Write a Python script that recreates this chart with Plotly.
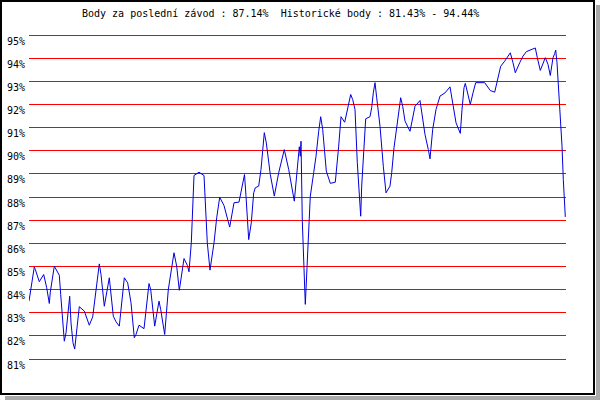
import plotly.graph_objects as go

# Position along the season and score in %
position = [0.0, 5.3, 6.3, 10.3, 14.7, 17.7, 20.3, 21.3, 25.3, 30.3, 31.7, 35.3, 37.0, 39.7, 40.7,
            42.0, 44.0, 45.7, 47.7, 50.3, 55.3, 60.3, 63.7, 67.0, 70.3, 72.0, 75.3, 80.3, 84.3,
            87.0, 90.3, 95.3, 98.7, 102.0, 105.3, 107.0, 110.0, 115.0, 120.0, 121.7, 125.7, 130.0,
            131.7, 135.7, 139.3, 145.0, 147.7, 150.3, 155.0, 158.3, 160.0, 162.3, 165.0, 170.0,
            175.0, 178.3, 181.0, 185.0, 187.7, 190.7, 195.0, 200.7, 205.0, 210.0, 215.5, 217.0,
            219.7, 222.3, 224.7, 226.3, 229.7, 232.0, 233.7, 235.3, 237.3, 241.3, 245.3, 249.7,
            255.3, 259.7, 265.3, 268.0, 270.3, 271.3, 272.0, 273.3, 275.3, 276.3, 278.0, 281.3,
            284.7, 287.0, 289.7, 291.7, 293.7, 297.3, 301.3, 306.3, 309.7, 312.0, 315.7, 319.7,
            321.7, 323.7, 326.0, 328.3, 331.0, 331.7, 332.7, 335.0, 336.7, 341.0, 342.7, 344.3,
            346.0, 347.7, 351.0, 354.3, 356.0, 357.0, 361.0, 362.7, 365.0, 367.7, 371.7, 373.7,
            376.0, 381.0, 383.7, 386.0, 391.0, 393.7, 396.0, 399.3, 401.0, 403.7, 407.0, 411.0,
            416.0, 421.0, 422.7, 427.0, 429.0, 431.3, 433.0, 435.0, 436.3, 439.0, 441.3, 444.0,
            446.7, 455.7, 459.0, 461.3, 465.7, 469.0, 471.7, 475.7, 479.0, 481.3, 484.0, 486.3,
            490.7, 494.0, 497.3, 502.3, 506.3, 508.3, 511.3, 516.3, 519.0, 521.3, 524.0, 525.7,
            526.7, 528.0, 529.7, 531.7, 533.0, 534.3, 535.7, 536.3]
score = [83.50, 84.98, 84.87, 84.34, 84.65, 84.08, 83.40, 83.89, 85.01, 84.62, 83.79, 81.77, 82.13,
         83.50, 83.71, 82.56, 81.70, 81.43, 82.35, 83.26, 83.07, 82.46, 82.82, 84.08, 85.11, 84.65,
         83.28, 84.51, 82.85, 82.61, 82.42, 84.51, 84.29, 83.43, 81.92, 82.06, 82.46, 82.31, 84.26,
         84.00, 82.42, 83.50, 83.14, 82.06, 84.00, 85.59, 85.01, 83.97, 85.34, 85.05, 84.77, 86.02,
         88.93, 89.07, 88.93, 86.02, 84.84, 86.02, 87.10, 87.99, 87.63, 86.70, 87.75, 87.78, 88.97,
         88.04, 86.16, 86.89, 88.18, 88.40, 88.47, 89.19, 90.08, 90.78, 90.34, 88.97, 88.04, 89.05,
         90.05, 89.19, 87.82, 89.05, 90.17, 89.76, 90.41, 86.96, 84.08, 83.36, 84.94, 88.04, 89.05,
         89.76, 90.84, 91.47, 90.92, 89.12, 88.59, 88.64, 90.20, 91.47, 91.23, 92.00, 92.43, 92.21,
         91.78, 89.48, 87.60, 87.17, 88.47, 90.13, 91.38, 91.47, 91.86, 92.50, 92.94, 92.29, 91.06,
         89.33, 88.40, 88.18, 88.47, 89.05, 90.13, 91.06, 92.29, 91.92, 91.28, 90.84, 91.49, 91.92,
         92.17, 91.35, 90.70, 90.05, 89.65, 90.92, 91.78, 92.36, 92.50, 92.76, 92.36, 91.21, 90.99,
         90.75, 91.78, 92.72, 92.91, 92.36, 92.00, 92.50, 92.94, 92.94, 92.72, 92.60, 92.53, 93.22,
         93.65, 93.87, 94.12, 94.23, 93.80, 93.37, 93.80, 94.09, 94.28, 94.35, 94.44, 94.02, 93.47,
         94.02, 93.73, 93.25, 94.02, 94.20, 94.35, 93.80, 92.65, 91.35, 90.20, 88.76, 87.60, 87.14]

tick_values = list(range(81, 96))
tick_labels = [f"{v}%" for v in tick_values]
title_text = "Body za poslední závod : 87.14%  Historické body : 81.43% - 94.44%"

W, H = 600, 400
L, R, T, B = 29, 34, 25, 31
PW, PH = W - L - R, H - T - B
# 95% sits at y=35 px and 81% at y=359 px -> 23.14 px per percent
PAD = 10 / (324 / 14)


def px(x):
    return (x - L) / PW


def py(y):
    return (H - B - y) / PH


fig = go.Figure()
fig.add_trace(go.Scatter(x=position, y=score, mode="lines",
                         line=dict(color="#0000dd", width=1),
                         hoverinfo="skip", showlegend=False))

font = dict(family="DejaVu Sans Mono, Liberation Mono, monospace", size=10, color="black")

fig.update_layout(
    width=W, height=H,
    margin=dict(l=L, r=R, t=T, b=B, autoexpand=False),
    paper_bgcolor="white", plot_bgcolor="white",
    showlegend=False,
    xaxis=dict(range=[0, 537], visible=False, showgrid=False, zeroline=False, automargin=False),
    yaxis=dict(range=[81 - PAD, 95 + PAD], tickvals=tick_values, ticktext=tick_labels,
               showgrid=True, gridcolor="#ff0000", gridwidth=1, zeroline=False,
               showline=False, ticks="", tickfont=font, automargin=False,
               ticklabelshift=6, ticklabelstandoff=3),
    annotations=[dict(text=title_text, x=px(280), y=py(13.5), xref="paper", yref="paper",
                      xanchor="center", yanchor="middle", showarrow=False, font=font)],
    shapes=[
        dict(type="rect", xref="paper", yref="paper", x0=px(596), x1=px(600), y0=py(5), y1=py(400),
             fillcolor="#a9a9a9", line=dict(width=0), layer="above"),
        dict(type="rect", xref="paper", yref="paper", x0=px(5), x1=px(600), y0=py(396), y1=py(400),
             fillcolor="#a9a9a9", line=dict(width=0), layer="above"),
        dict(type="rect", xref="paper", yref="paper", x0=px(1), x1=px(594), y0=py(394), y1=py(1),
             line=dict(color="black", width=2), fillcolor="rgba(0,0,0,0)", layer="above"),
    ],
)

fig.write_html("out.html", config={"displayModeBar": False},
               post_script="document.body.style.margin='0';document.body.style.padding='0';")
